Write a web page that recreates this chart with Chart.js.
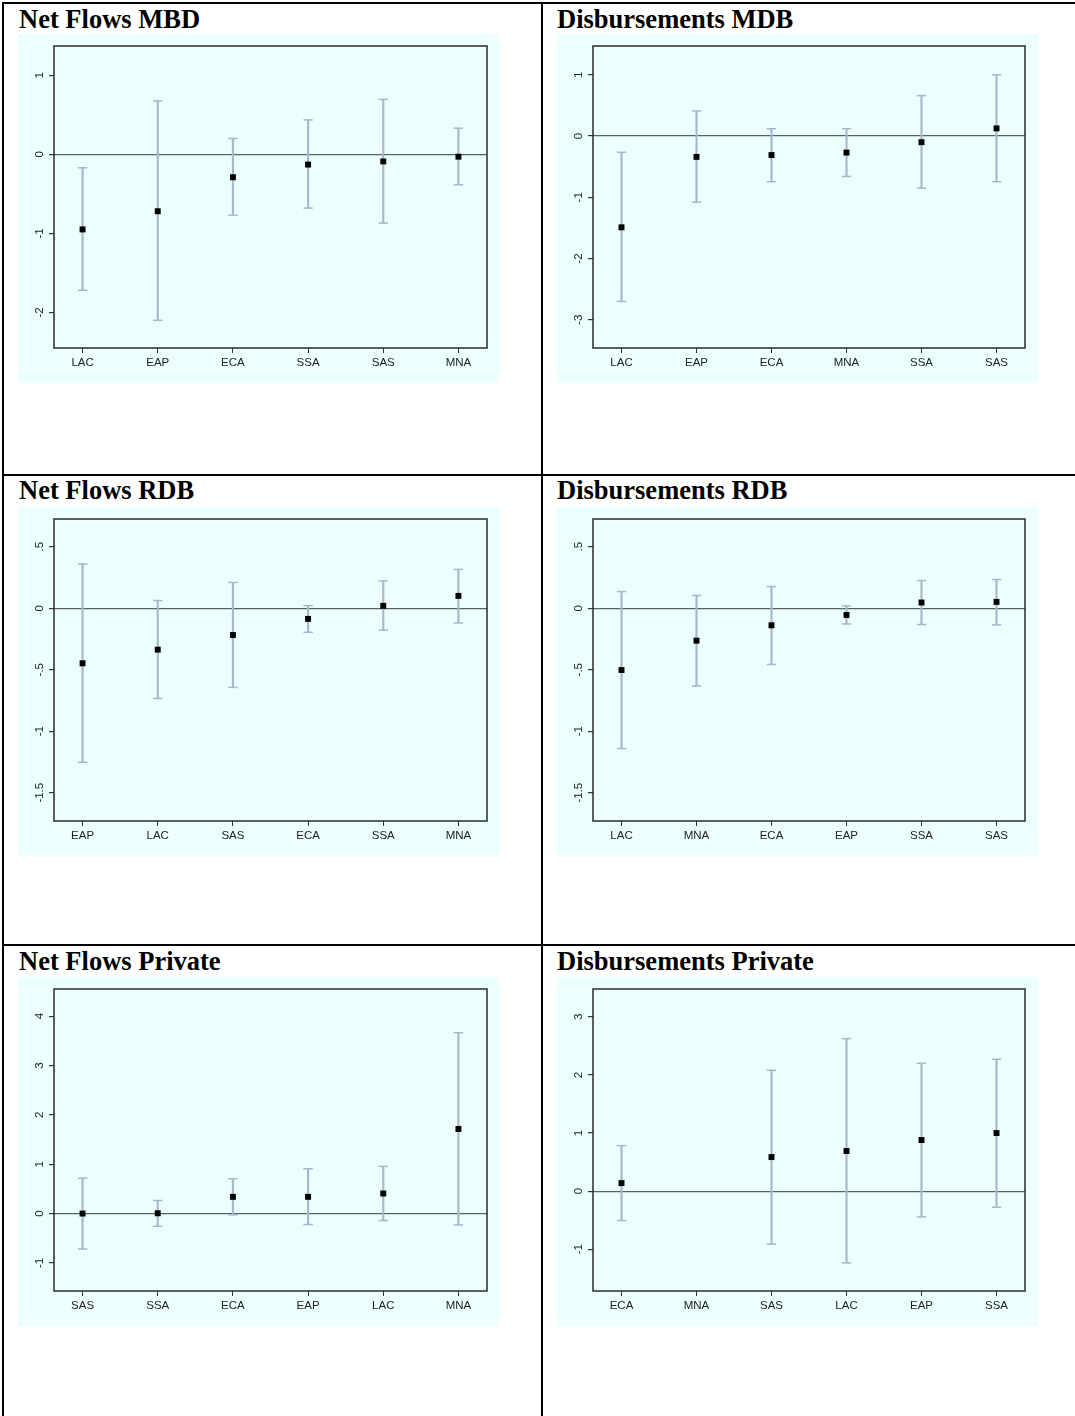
<!DOCTYPE html>
<html>
<head>
<meta charset="utf-8">
<script src="https://cdn.jsdelivr.net/npm/chart.js@4.4.0/dist/chart.umd.min.js"></script>
<style>
body { margin: 0; background: #fff; width: 1075px; height: 1416px; position: relative; overflow: hidden; }
.rule { position: absolute; background: #000; }
.title { position: absolute; font: bold 26.5px "Liberation Serif", "Times New Roman", serif; line-height: 24px; color: #000; white-space: nowrap; }
canvas { position: absolute; background: #ebffff; }
</style>
</head>
<body>
<div class="rule" style="left:2px;top:2px;width:1073px;height:2px"></div>
<div class="rule" style="left:2px;top:2px;width:2px;height:1414px"></div>
<div class="rule" style="left:541px;top:2px;width:2px;height:1414px"></div>
<div class="rule" style="left:2px;top:474px;width:1073px;height:2px"></div>
<div class="rule" style="left:2px;top:944px;width:1073px;height:2px"></div>

<div class="title" style="left:19px;top:7px">Net Flows MBD</div>
<div class="title" style="left:557px;top:7px">Disbursements MDB</div>
<div class="title" style="left:19px;top:478px">Net Flows RDB</div>
<div class="title" style="left:557px;top:478px">Disbursements RDB</div>
<div class="title" style="left:19px;top:949px">Net Flows Private</div>
<div class="title" style="left:557px;top:949px">Disbursements Private</div>

<canvas id="c1" width="481" height="349" style="left:18px;top:34px"></canvas>
<canvas id="c2" width="481" height="349" style="left:557px;top:34px"></canvas>
<canvas id="c3" width="481" height="349" style="left:18px;top:507px"></canvas>
<canvas id="c4" width="481" height="349" style="left:557px;top:507px"></canvas>
<canvas id="c5" width="481" height="349" style="left:18px;top:977px"></canvas>
<canvas id="c6" width="481" height="349" style="left:557px;top:977px"></canvas>

<script>
// Net Flows MBD
const cats1 = ['LAC', 'EAP', 'ECA', 'SSA', 'SAS', 'MNA'];
const est1 = [-0.95, -0.72, -0.29, -0.13, -0.09, -0.03];
const lo1 = [-1.72, -2.10, -0.77, -0.68, -0.87, -0.385];
const hi1 = [-0.17, 0.675, 0.20, 0.435, 0.695, 0.33];
const yTicks1 = [-2, -1, 0, 1];
const yLabels1 = ['-2', '-1', '0', '1'];

// Disbursements MDB
const cats2 = ['LAC', 'EAP', 'ECA', 'MNA', 'SSA', 'SAS'];
const est2 = [-1.49, -0.34, -0.31, -0.27, -0.10, 0.125];
const lo2 = [-2.70, -1.08, -0.745, -0.66, -0.85, -0.745];
const hi2 = [-0.265, 0.41, 0.12, 0.12, 0.66, 1.0];
const yTicks2 = [-3, -2, -1, 0, 1];
const yLabels2 = ['-3', '-2', '-1', '0', '1'];

// Net Flows RDB
const cats3 = ['EAP', 'LAC', 'SAS', 'ECA', 'SSA', 'MNA'];
const est3 = [-0.448, -0.337, -0.218, -0.087, 0.019, 0.10];
const lo3 = [-1.253, -0.734, -0.644, -0.196, -0.179, -0.12];
const hi3 = [0.359, 0.062, 0.209, 0.021, 0.222, 0.315];
const yTicks3 = [-1.5, -1, -0.5, 0, 0.5];
const yLabels3 = ['-1.5', '-1', '-.5', '0', '.5'];

// Disbursements RDB
const cats4 = ['LAC', 'MNA', 'ECA', 'EAP', 'SSA', 'SAS'];
const est4 = [-0.503, -0.264, -0.139, -0.055, 0.046, 0.051];
const lo4 = [-1.141, -0.633, -0.457, -0.128, -0.133, -0.136];
const hi4 = [0.135, 0.103, 0.176, 0.019, 0.225, 0.233];
const yTicks4 = [-1.5, -1, -0.5, 0, 0.5];
const yLabels4 = ['-1.5', '-1', '-.5', '0', '.5'];

// Net Flows Private
const cats5 = ['SAS', 'SSA', 'ECA', 'EAP', 'LAC', 'MNA'];
const est5 = [0.0, 0.005, 0.338, 0.338, 0.406, 1.713];
const lo5 = [-0.719, -0.258, -0.027, -0.224, -0.142, -0.231];
const hi5 = [0.717, 0.264, 0.704, 0.907, 0.955, 3.665];
const yTicks5 = [-1, 0, 1, 2, 3, 4];
const yLabels5 = ['-1', '0', '1', '2', '3', '4'];

// Disbursements Private (no estimate for MNA)
const cats6 = ['ECA', 'MNA', 'SAS', 'LAC', 'EAP', 'SSA'];
const est6 = [0.138, null, 0.586, 0.69, 0.879, 1.0];
const lo6 = [-0.506, null, -0.914, -1.236, -0.443, -0.276];
const hi6 = [0.782, null, 2.08, 2.626, 2.201, 2.27];
const yTicks6 = [-1, 0, 1, 2, 3];
const yLabels6 = ['-1', '0', '1', '2', '3'];

const yMins = [-2.45, -3.46, -1.73, -1.73, -1.57, -1.72];
const yMaxs = [1.37, 1.47, 0.725, 0.725, 4.55, 3.48];

const ciColor = '#a9b6cc';
const tickFont = { family: 'Liberation Sans', size: 11.5 };

// plot box and rotated y labels (Stata style)
function framePlugin(yLabels) {
    return {
        id: 'frame',
        afterDraw(chart) {
            const ctx = chart.ctx, ca = chart.chartArea, ys = chart.scales.y;
            ctx.save();
            ctx.strokeStyle = '#2a2a2a';
            ctx.lineWidth = 1.5;
            ctx.strokeRect(ca.left, ca.top, ca.right - ca.left, ca.bottom - ca.top);
            ctx.font = '11.5px "Liberation Sans"';
            ctx.fillStyle = '#222';
            ctx.textAlign = 'center';
            ctx.textBaseline = 'middle';
            ys.ticks.forEach((t, i) => {
                ctx.save();
                ctx.translate(ca.left - 14, ys.getPixelForValue(t.value));
                ctx.rotate(-Math.PI / 2);
                ctx.fillText(yLabels[i], 0, 0);
                ctx.restore();
            });
            ctx.restore();
        }
    };
}

function makeChart(id, cats, est, lo, hi, yTicks, yLabels, yMin, yMax, padRight) {
    const xs = cats.map((c, i) => i + 1);
    const whiskers = [], caps = [], marks = [];
    xs.forEach((x, i) => {
        if (lo[i] != null) {
            whiskers.push({ x: x, y: [lo[i], hi[i]] });
            caps.push({ x: x, y: hi[i] }, { x: x, y: lo[i] });
        }
        if (est[i] != null) marks.push({ x: x, y: est[i] });
    });

    new Chart(document.getElementById(id), {
        type: 'bar',
        data: {
            datasets: [
                {
                    type: 'scatter',
                    data: marks,
                    pointStyle: 'rect',
                    pointRadius: 4.2,
                    backgroundColor: '#000',
                    borderWidth: 0,
                    order: 0
                },
                {
                    type: 'scatter',
                    data: caps,
                    pointStyle: 'line',
                    pointRadius: 4.7,
                    borderColor: ciColor,
                    borderWidth: 1.5,
                    order: 1
                },
                {
                    type: 'bar',
                    data: whiskers,
                    backgroundColor: ciColor,
                    barThickness: 1.5,
                    borderWidth: 0,
                    order: 2
                }
            ]
        },
        options: {
            responsive: false,
            animation: false,
            events: [],
            layout: { padding: { top: 12, right: padRight, left: 0, bottom: 0 } },
            plugins: { legend: { display: false }, tooltip: { enabled: false } },
            scales: {
                x: {
                    type: 'linear',
                    min: 0.62,
                    max: 6.38,
                    offset: false,
                    afterBuildTicks: a => { a.ticks = xs.map(v => ({ value: v })); },
                    afterFit: a => { a.height = 35; },
                    ticks: {
                        callback: (v, i) => cats[i],
                        font: tickFont,
                        color: '#222',
                        padding: 3,
                        maxRotation: 0,
                        autoSkip: false
                    },
                    grid: { drawOnChartArea: false, tickLength: 5, color: '#333', offset: false },
                    border: { display: false }
                },
                y: {
                    min: yMin,
                    max: yMax,
                    afterBuildTicks: a => { a.ticks = yTicks.map(v => ({ value: v })); },
                    afterFit: a => { a.width = 36; },
                    ticks: { display: false },
                    grid: {
                        color: c => (c.tick && c.tick.value === 0) ? '#5a5f60' : 'rgba(0,0,0,0)',
                        tickColor: '#333',
                        tickLength: 5,
                        lineWidth: 1.2
                    },
                    border: { display: false }
                }
            }
        },
        plugins: [framePlugin(yLabels)]
    });
}

makeChart('c1', cats1, est1, lo1, hi1, yTicks1, yLabels1, yMins[0], yMaxs[0], 12);
makeChart('c2', cats2, est2, lo2, hi2, yTicks2, yLabels2, yMins[1], yMaxs[1], 13);
makeChart('c3', cats3, est3, lo3, hi3, yTicks3, yLabels3, yMins[2], yMaxs[2], 12);
makeChart('c4', cats4, est4, lo4, hi4, yTicks4, yLabels4, yMins[3], yMaxs[3], 13);
makeChart('c5', cats5, est5, lo5, hi5, yTicks5, yLabels5, yMins[4], yMaxs[4], 12);
makeChart('c6', cats6, est6, lo6, hi6, yTicks6, yLabels6, yMins[5], yMaxs[5], 13);
</script>
</body>
</html>
